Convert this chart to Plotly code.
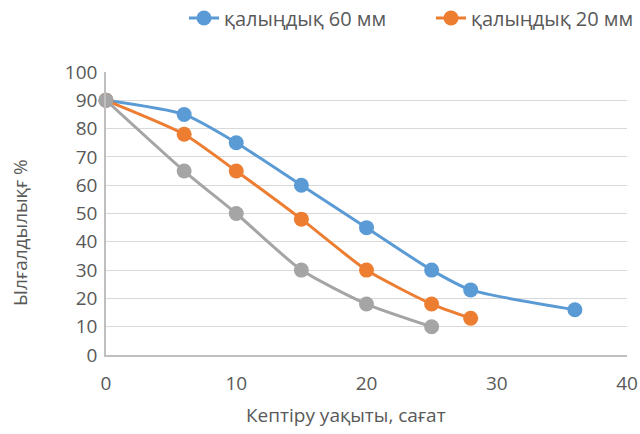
import plotly.graph_objects as go

# Drying time (hours) and moisture (%) for each sample
hours_60 = [0, 6, 10, 15, 20, 25, 28, 36]
moist_60 = [90, 85, 75, 60, 45, 30, 23, 16]

hours_20 = [0, 6, 10, 15, 20, 25, 28]
moist_20 = [90, 78, 65, 48, 30, 18, 13]

hours_3 = [0, 6, 10, 15, 20, 25]
moist_3 = [90, 65, 50, 30, 18, 10]

x_ticks = [0, 10, 20, 30, 40]
y_ticks = [0, 10, 20, 30, 40, 50, 60, 70, 80, 90, 100]

FONT = "Open Sans, Liberation Sans, sans-serif"
TEXT = "#595959"

W, H = 640, 434
L, R, T, B = 106, 13, 72, 79

fig = go.Figure()

def add(x, y, color, name, legend=True):
    fig.add_trace(go.Scatter(
        x=x, y=y, name=name, mode="lines+markers", showlegend=legend,
        cliponaxis=False,
        line=dict(color=color, width=3, shape="spline", smoothing=0.6),
        marker=dict(color=color, size=15),
    ))

add(hours_60, moist_60, "#5b9bd5", "қалыңдық 60 мм")
add(hours_20, moist_20, "#ed7d31", "қалыңдық 20 мм")
add(hours_3, moist_3, "#a5a5a5", "", legend=False)

pw, ph = W - L - R, H - T - B

fig.update_layout(
    width=W, height=H,
    margin=dict(l=L, r=R, t=T, b=B, autoexpand=False),
    paper_bgcolor="white", plot_bgcolor="white",
    font=dict(family=FONT, color=TEXT, size=19),
    legend=dict(orientation="h", x=184 / W, xanchor="left", xref="container",
                y=1 - 18 / H, yanchor="middle", yref="container",
                traceorder="normal", font=dict(size=20),
                entrywidth=202, entrywidthmode="pixels"),
    xaxis=dict(range=[0, 40], tickvals=x_ticks, showgrid=False,
               showline=True, linecolor="#bfbfbf", linewidth=1.5, zeroline=False,
               ticks="", ticklabelstandoff=10, tickfont=dict(size=19, color=TEXT)),
    yaxis=dict(range=[0, 100], tickvals=y_ticks, showgrid=True, gridcolor="#d9d9d9",
               gridwidth=1.3, showline=True, linecolor="#bfbfbf", linewidth=1.5,
               zeroline=False, ticks="", ticklabelstandoff=3,
               tickfont=dict(size=19, color=TEXT)),
    annotations=[
        dict(text="Кептіру уақыты, сағат", xref="paper", yref="paper",
             x=(346 - L) / pw, y=-(415 - T - ph) / ph, showarrow=False,
             xanchor="center", yanchor="middle", font=dict(size=19, color=TEXT)),
        dict(text="Ылғалдылықғ %", xref="paper", yref="paper",
             x=-(L - 20) / pw, y=(T + ph - 233) / ph, showarrow=False, textangle=-90,
             xanchor="center", yanchor="middle", font=dict(size=19, color=TEXT)),
    ],
)

fig.write_html("out.html")
